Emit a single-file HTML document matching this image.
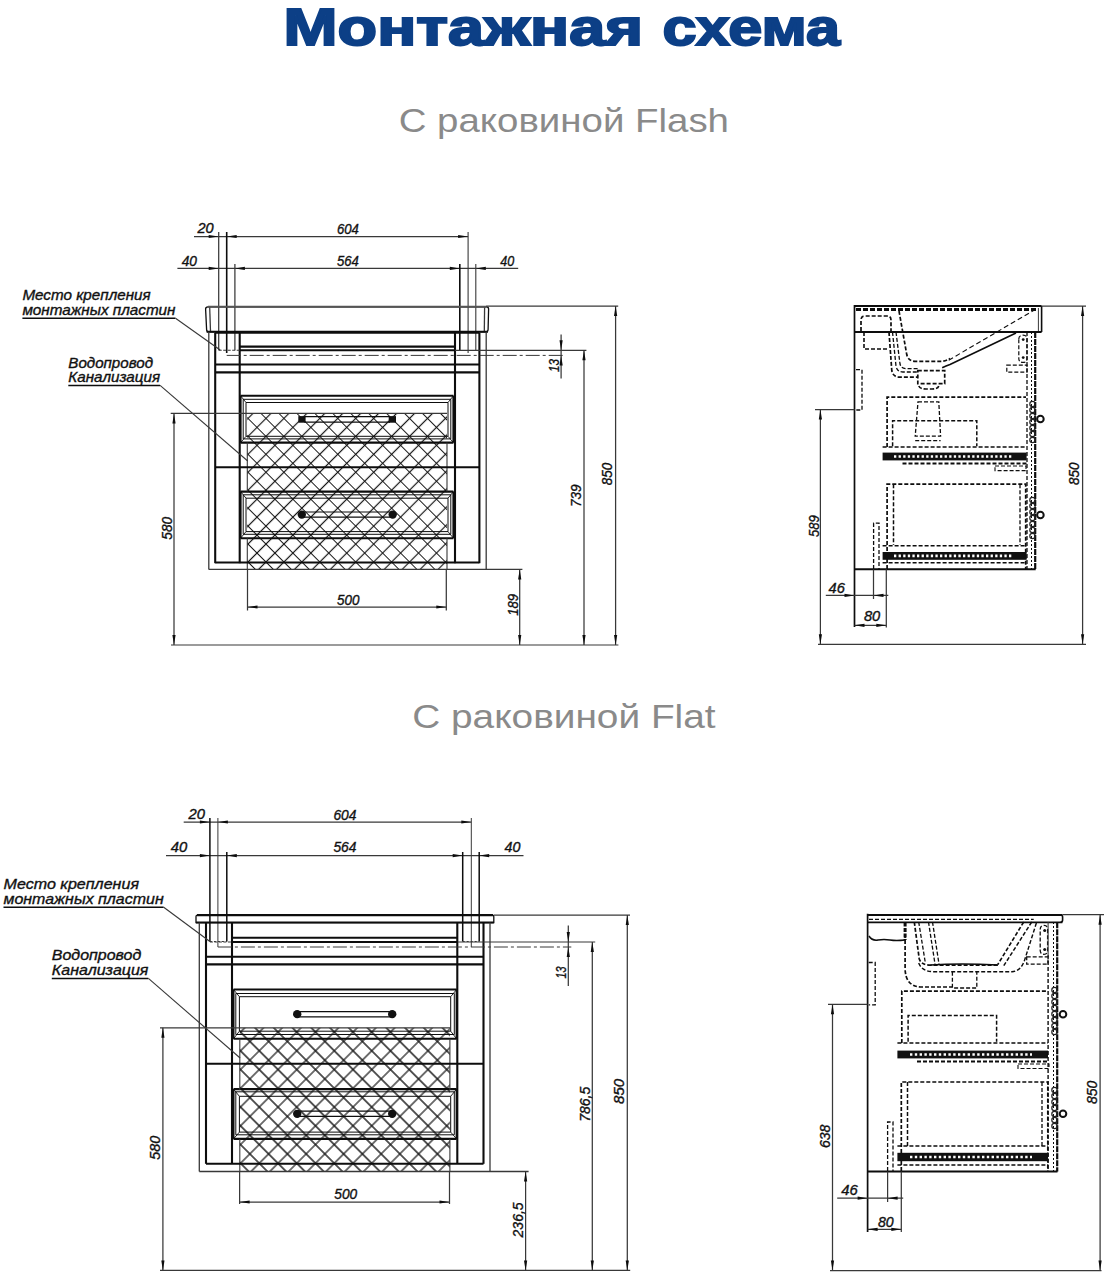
<!DOCTYPE html>
<html><head><meta charset="utf-8"><title>Монтажная схема</title>
<style>
html,body{margin:0;padding:0;background:#fff;width:1104px;height:1276px;overflow:hidden}
svg{display:block;font-family:"Liberation Sans",sans-serif}
</style></head><body>
<svg width="1104" height="1276" viewBox="0 0 1104 1276">
<defs>
<pattern id="hA" patternUnits="userSpaceOnUse" width="12.693" height="12.693" patternTransform="translate(248.0,409.425) rotate(45)"><path d="M0,6.346H12.693M6.346,0V12.693" stroke="#161616" stroke-width="1.2"/></pattern>
<pattern id="hB" patternUnits="userSpaceOnUse" width="13.258" height="13.258" patternTransform="translate(240.5,1041.425) rotate(45)"><path d="M0,6.629H13.258M6.629,0V13.258" stroke="#161616" stroke-width="1.2"/></pattern>
</defs>
<text x="283.6" y="45.2" font-size="52" font-style="normal" text-anchor="start" fill="#0c3f86" textLength="359.5" lengthAdjust="spacingAndGlyphs" font-weight="bold" stroke="#0c3f86" stroke-width="2">Монтажная</text>
<text x="662.6" y="45.2" font-size="52" font-style="normal" text-anchor="start" fill="#0c3f86" textLength="177.4" lengthAdjust="spacingAndGlyphs" font-weight="bold" stroke="#0c3f86" stroke-width="2">схема</text>
<text x="398.7" y="131.6" font-size="34" font-style="normal" text-anchor="start" fill="#8a8a8a" textLength="330.3" lengthAdjust="spacingAndGlyphs" >С раковиной Flash</text>
<text x="412.2" y="728.0" font-size="34" font-style="normal" text-anchor="start" fill="#8a8a8a" textLength="303.4" lengthAdjust="spacingAndGlyphs" >С раковиной Flat</text>
<line x1="194" y1="236.5" x2="468.1" y2="236.5" stroke="#383838" stroke-width="1.25"/>
<polygon points="218.7,236.5 208.7,234.9 208.7,238.1" fill="#0d0d0d"/>
<polygon points="226.7,236.5 236.7,234.9 236.7,238.1" fill="#0d0d0d"/>
<polygon points="468.1,236.5 458.1,234.9 458.1,238.1" fill="#0d0d0d"/>
<text x="197.4" y="233.2" font-size="13.8" font-style="italic" text-anchor="start" fill="#111" stroke="#111" stroke-width="0.35" textLength="16.2" lengthAdjust="spacingAndGlyphs" >20</text>
<text x="336.9" y="233.5" font-size="13.8" font-style="italic" text-anchor="start" fill="#111" stroke="#111" stroke-width="0.35" textLength="21.9" lengthAdjust="spacingAndGlyphs" >604</text>
<line x1="177.4" y1="268.4" x2="518.2" y2="268.4" stroke="#383838" stroke-width="1.25"/>
<polygon points="218.7,268.4 208.7,266.79999999999995 208.7,270.0" fill="#0d0d0d"/>
<polygon points="234.9,268.4 244.9,266.79999999999995 244.9,270.0" fill="#0d0d0d"/>
<polygon points="459.8,268.4 449.8,266.79999999999995 449.8,270.0" fill="#0d0d0d"/>
<polygon points="475.8,268.4 485.8,266.79999999999995 485.8,270.0" fill="#0d0d0d"/>
<text x="181.7" y="265.8" font-size="13.8" font-style="italic" text-anchor="start" fill="#111" stroke="#111" stroke-width="0.35" textLength="15.3" lengthAdjust="spacingAndGlyphs" >40</text>
<text x="336.9" y="265.8" font-size="13.8" font-style="italic" text-anchor="start" fill="#111" stroke="#111" stroke-width="0.35" textLength="21.9" lengthAdjust="spacingAndGlyphs" >564</text>
<text x="500.3" y="265.8" font-size="13.8" font-style="italic" text-anchor="start" fill="#111" stroke="#111" stroke-width="0.35" textLength="14" lengthAdjust="spacingAndGlyphs" >40</text>
<line x1="218.7" y1="232" x2="218.7" y2="350.3" stroke="#383838" stroke-width="1.25"/>
<line x1="226.7" y1="232" x2="226.7" y2="353" stroke="#0d0d0d" stroke-width="1.6"/>
<line x1="234.9" y1="264" x2="234.9" y2="350.3" stroke="#383838" stroke-width="1.25"/>
<line x1="459.8" y1="264" x2="459.8" y2="350.3" stroke="#0d0d0d" stroke-width="1.6"/>
<line x1="468.1" y1="232" x2="468.1" y2="353" stroke="#383838" stroke-width="1.1"/>
<line x1="475.8" y1="264" x2="475.8" y2="350.3" stroke="#383838" stroke-width="1.1"/>
<path d="M208,306.8 H486.6 Q488.6,306.8 488.6,309 L488.1,329.6 Q488,331.8 486,331.8 H208.7 Q206.7,331.8 206.6,329.6 L205.6,309 Q205.6,306.8 208,306.8 Z" stroke="#0d0d0d" stroke-width="1.3" fill="none" />
<line x1="208" y1="306.8" x2="486.6" y2="306.8" stroke="#555" stroke-width="2.0"/>
<line x1="209.7" y1="307.5" x2="210.5" y2="331.5" stroke="#383838" stroke-width="1.3"/>
<line x1="484.6" y1="307.5" x2="484.3" y2="331.5" stroke="#383838" stroke-width="1.3"/>
<line x1="206.6" y1="331.8" x2="488" y2="331.8" stroke="#0d0d0d" stroke-width="2.0"/>
<line x1="208.8" y1="331.8" x2="208.8" y2="569.4" stroke="#383838" stroke-width="1.3"/>
<line x1="215.2" y1="333" x2="215.2" y2="563.2" stroke="#0d0d0d" stroke-width="2.1"/>
<line x1="239.7" y1="333" x2="239.7" y2="563.2" stroke="#0d0d0d" stroke-width="2.1"/>
<line x1="455.0" y1="333" x2="455.0" y2="563.2" stroke="#0d0d0d" stroke-width="2.1"/>
<line x1="479.4" y1="333" x2="479.4" y2="563.2" stroke="#0d0d0d" stroke-width="2.1"/>
<line x1="486.2" y1="331.8" x2="486.2" y2="569.4" stroke="#383838" stroke-width="1.3"/>
<line x1="215.2" y1="332.6" x2="479.4" y2="332.6" stroke="#0d0d0d" stroke-width="2.1"/>
<line x1="239.7" y1="346.6" x2="455" y2="346.6" stroke="#0d0d0d" stroke-width="2.1"/>
<line x1="455" y1="350.3" x2="586.4" y2="350.3" stroke="#383838" stroke-width="1.15"/>
<line x1="239.7" y1="350.3" x2="455" y2="350.3" stroke="#0d0d0d" stroke-width="2.0"/>
<line x1="218.7" y1="350.3" x2="239.7" y2="350.3" stroke="#383838" stroke-width="1.1" stroke-dasharray="3,1.5"/>
<line x1="226.7" y1="355.4" x2="564.4" y2="355.4" stroke="#383838" stroke-width="1.0" stroke-dasharray="14,3,3,3"/>
<line x1="215.2" y1="364.5" x2="479.4" y2="364.5" stroke="#0d0d0d" stroke-width="2.1"/>
<line x1="215.2" y1="372.4" x2="479.4" y2="372.4" stroke="#0d0d0d" stroke-width="2.1"/>
<rect x="247.2" y="413.3" width="199.8" height="156.0" fill="url(#hA)"/>
<line x1="240.6" y1="395.8" x2="453.4" y2="395.8" stroke="#0d0d0d" stroke-width="2.1"/>
<line x1="240.6" y1="395.8" x2="240.6" y2="442.6" stroke="#0d0d0d" stroke-width="2.0"/>
<line x1="453.4" y1="395.8" x2="453.4" y2="442.6" stroke="#0d0d0d" stroke-width="2.0"/>
<path d="M243.2,438.90000000000003 V399.3 H450.79999999999995 V438.90000000000003 Z" stroke="#0d0d0d" stroke-width="1.0" fill="none" />
<path d="M246.0,436.3 V402.5 H448.0 V436.3 Z" stroke="#0d0d0d" stroke-width="1.0" fill="none" />
<path d="M240.6,395.8 L246.0,402.5 M453.4,395.8 L448.0,402.5 M240.6,442.6 L246.0,436.3 M453.4,442.6 L448.0,436.3" stroke="#0d0d0d" stroke-width="0.9" fill="none" />
<line x1="240.6" y1="442.6" x2="453.4" y2="442.6" stroke="#0d0d0d" stroke-width="2.1"/>
<line x1="240.6" y1="491.6" x2="453.4" y2="491.6" stroke="#0d0d0d" stroke-width="2.1"/>
<line x1="240.6" y1="491.6" x2="240.6" y2="538.2" stroke="#0d0d0d" stroke-width="2.0"/>
<line x1="453.4" y1="491.6" x2="453.4" y2="538.2" stroke="#0d0d0d" stroke-width="2.0"/>
<path d="M243.2,534.3000000000001 V494.8 H450.79999999999995 V534.3000000000001 Z" stroke="#0d0d0d" stroke-width="1.0" fill="none" />
<path d="M246.0,531.6 V498.20000000000005 H448.0 V531.6 Z" stroke="#0d0d0d" stroke-width="1.0" fill="none" />
<path d="M240.6,491.6 L246.0,498.20000000000005 M453.4,491.6 L448.0,498.20000000000005 M240.6,538.2 L246.0,531.6 M453.4,538.2 L448.0,531.6" stroke="#0d0d0d" stroke-width="0.9" fill="none" />
<line x1="240.6" y1="538.2" x2="453.4" y2="538.2" stroke="#0d0d0d" stroke-width="2.1"/>
<line x1="247.3" y1="442.4" x2="247.3" y2="491.6" stroke="#383838" stroke-width="1.1"/>
<line x1="447.0" y1="442.4" x2="447.0" y2="491.6" stroke="#383838" stroke-width="1.1"/>
<line x1="247.3" y1="538.2" x2="247.3" y2="569.4" stroke="#383838" stroke-width="1.1"/>
<line x1="447.0" y1="538.2" x2="447.0" y2="569.4" stroke="#383838" stroke-width="1.1"/>
<line x1="215.2" y1="467.3" x2="479.4" y2="467.3" stroke="#0d0d0d" stroke-width="2.1"/>
<line x1="215.2" y1="562.5" x2="479.4" y2="562.5" stroke="#0d0d0d" stroke-width="2.1"/>
<line x1="208.8" y1="569.4" x2="522.4" y2="569.4" stroke="#383838" stroke-width="1.3"/>
<path d="M304.3,416.59999999999997 H390.0 M304.3,422.2 H390.0" stroke="#0d0d0d" stroke-width="1.2" fill="none" />
<rect x="298.3" y="416.09999999999997" width="7.3" height="6.6" fill="#111"/>
<rect x="388.7" y="416.09999999999997" width="7.3" height="6.6" fill="#111"/>
<path d="M303.0,512.0 H391.5 Q393.5,514.6 391.5,517.2 H303.0" stroke="#0d0d0d" stroke-width="1.2" fill="none" />
<ellipse cx="301.8" cy="514.6" rx="4.2" ry="4.1" fill="#111"/>
<ellipse cx="392.7" cy="514.6" rx="4.2" ry="4.1" fill="#111"/>
<text x="22.4" y="300.1" font-size="14" font-style="italic" text-anchor="start" fill="#111" stroke="#111" stroke-width="0.35" textLength="128.3" lengthAdjust="spacingAndGlyphs" >Место крепления</text>
<text x="22.4" y="314.7" font-size="14" font-style="italic" text-anchor="start" fill="#111" stroke="#111" stroke-width="0.35" textLength="153.1" lengthAdjust="spacingAndGlyphs" >монтажных пластин</text>
<line x1="22.4" y1="318.3" x2="175.5" y2="318.3" stroke="#0d0d0d" stroke-width="1.5"/>
<line x1="175.5" y1="318.3" x2="220.2" y2="350.0" stroke="#383838" stroke-width="1.1"/>
<text x="68.3" y="367.7" font-size="14" font-style="italic" text-anchor="start" fill="#111" stroke="#111" stroke-width="0.35" textLength="84.7" lengthAdjust="spacingAndGlyphs" >Водопровод</text>
<text x="68.3" y="381.9" font-size="14" font-style="italic" text-anchor="start" fill="#111" stroke="#111" stroke-width="0.35" textLength="91.8" lengthAdjust="spacingAndGlyphs" >Канализация</text>
<line x1="68.3" y1="385.4" x2="160.1" y2="385.4" stroke="#0d0d0d" stroke-width="1.5"/>
<line x1="160.1" y1="385.4" x2="247.7" y2="461.0" stroke="#383838" stroke-width="1.1"/>
<line x1="170.7" y1="413.4" x2="447" y2="413.4" stroke="#383838" stroke-width="1.25"/>
<line x1="174" y1="413.5" x2="174" y2="645" stroke="#383838" stroke-width="1.25"/>
<polygon points="174,413.5 172.4,423.5 175.6,423.5" fill="#0d0d0d"/>
<polygon points="174,645 172.4,635 175.6,635" fill="#0d0d0d"/>
<text x="171.768" y="528.2" font-size="13.8" font-style="italic" text-anchor="middle" fill="#111" stroke="#111" stroke-width="0.35" transform="rotate(-90 171.768 528.2)" textLength="23" lengthAdjust="spacingAndGlyphs" >580</text>
<line x1="171" y1="645" x2="618.4" y2="645" stroke="#383838" stroke-width="1.2"/>
<line x1="247.5" y1="569.4" x2="247.5" y2="610.5" stroke="#383838" stroke-width="1.25"/>
<line x1="446.3" y1="569.4" x2="446.3" y2="610.5" stroke="#383838" stroke-width="1.25"/>
<line x1="247.5" y1="607" x2="446.3" y2="607" stroke="#383838" stroke-width="1.25"/>
<polygon points="247.5,607 257.5,605.4 257.5,608.6" fill="#0d0d0d"/>
<polygon points="446.3,607 436.3,605.4 436.3,608.6" fill="#0d0d0d"/>
<text x="337" y="604.7" font-size="13.8" font-style="italic" text-anchor="start" fill="#111" stroke="#111" stroke-width="0.35" textLength="22.4" lengthAdjust="spacingAndGlyphs" >500</text>
<line x1="519.7" y1="569.4" x2="519.7" y2="645" stroke="#383838" stroke-width="1.25"/>
<polygon points="519.7,569.4 518.1,579.4 521.3000000000001,579.4" fill="#0d0d0d"/>
<polygon points="519.7,645 518.1,635 521.3000000000001,635" fill="#0d0d0d"/>
<text x="518.168" y="604.9" font-size="13.8" font-style="italic" text-anchor="middle" fill="#111" stroke="#111" stroke-width="0.35" transform="rotate(-90 518.168 604.9)" textLength="21.8" lengthAdjust="spacingAndGlyphs" >189</text>
<line x1="584" y1="350.3" x2="584" y2="645" stroke="#383838" stroke-width="1.25"/>
<polygon points="584,350.3 582.4,360.3 585.6,360.3" fill="#0d0d0d"/>
<polygon points="584,645 582.4,635 585.6,635" fill="#0d0d0d"/>
<text x="580.8679999999999" y="495.7" font-size="13.8" font-style="italic" text-anchor="middle" fill="#111" stroke="#111" stroke-width="0.35" transform="rotate(-90 580.8679999999999 495.7)" textLength="22.6" lengthAdjust="spacingAndGlyphs" >739</text>
<line x1="486.2" y1="306.0" x2="618.2" y2="306.0" stroke="#383838" stroke-width="1.25"/>
<line x1="615.6" y1="306" x2="615.6" y2="645" stroke="#383838" stroke-width="1.25"/>
<polygon points="615.6,306 614.0,316 617.2,316" fill="#0d0d0d"/>
<polygon points="615.6,645 614.0,635 617.2,635" fill="#0d0d0d"/>
<text x="612.468" y="474" font-size="13.8" font-style="italic" text-anchor="middle" fill="#111" stroke="#111" stroke-width="0.35" transform="rotate(-90 612.468 474)" textLength="22.6" lengthAdjust="spacingAndGlyphs" >850</text>
<line x1="561.1" y1="334.6" x2="561.1" y2="378.6" stroke="#383838" stroke-width="1.25"/>
<polygon points="561.1,350.3 559.5,340.3 562.7,340.3" fill="#0d0d0d"/>
<polygon points="561.1,355.4 559.5,365.4 562.7,365.4" fill="#0d0d0d"/>
<text x="559.3679999999999" y="365.5" font-size="13.8" font-style="italic" text-anchor="middle" fill="#111" stroke="#111" stroke-width="0.35" transform="rotate(-90 559.3679999999999 365.5)" textLength="13" lengthAdjust="spacingAndGlyphs" >13</text>
<line x1="854.5" y1="306" x2="1041.6" y2="306" stroke="#0d0d0d" stroke-width="1.9"/>
<line x1="1041.6" y1="306" x2="1041.6" y2="332" stroke="#0d0d0d" stroke-width="1.6"/>
<line x1="1038.4" y1="308" x2="1038.4" y2="331" stroke="#383838" stroke-width="1.0"/>
<line x1="854.5" y1="332" x2="1041.6" y2="332" stroke="#0d0d0d" stroke-width="1.8"/>
<line x1="1041.6" y1="306" x2="1086" y2="306" stroke="#383838" stroke-width="1.25"/>
<line x1="854.5" y1="305" x2="854.5" y2="627" stroke="#0d0d0d" stroke-width="1.7"/>
<line x1="1035.2" y1="332" x2="1035.2" y2="569.3" stroke="#0d0d0d" stroke-width="2.2" stroke-dasharray="6,1"/>
<line x1="854.5" y1="569.3" x2="1035.7" y2="569.3" stroke="#0d0d0d" stroke-width="1.9"/>
<line x1="856" y1="309.4" x2="1036.7" y2="309.4" stroke="#0d0d0d" stroke-width="3.0" stroke-dasharray="5,2"/>
<path d="M899,311 L906.8,354.8 Q908.5,361.3 915,361.3 L942,361.3 Q946,361 950,358.5" stroke="#0d0d0d" stroke-width="1.7" fill="none" stroke-dasharray="4,2" />
<path d="M948.7,360.2 L1037.8,308" stroke="#0d0d0d" stroke-width="1.1" fill="none" stroke-dasharray="5,3" />
<path d="M942.2,367.8 Q946,366 950,364.5 L1016,333" stroke="#0d0d0d" stroke-width="1.6" fill="none" />
<path d="M889,332 L891.8,370.7 Q893,377.2 900,377.2 L918,377.2" stroke="#0d0d0d" stroke-width="1.7" fill="none" stroke-dasharray="4,2" />
<path d="M892.5,332 L896,366 Q897,372 903,372 H918" stroke="#0d0d0d" stroke-width="1.3" fill="none" stroke-dasharray="4,2" />
<path d="M896,332 L900,364 Q901,368.6 906,368.6 H918" stroke="#0d0d0d" stroke-width="1.3" fill="none" stroke-dasharray="4,2" />
<path d="M917.8,370.7 H944.7 V383.7 H917.8 Z" stroke="#0d0d0d" stroke-width="1.7" fill="none" stroke-dasharray="4,2" />
<path d="M918.8,386 Q920,389 926,389 H932 Q938,389 938.7,386" stroke="#0d0d0d" stroke-width="1.7" fill="none" stroke-dasharray="4,2" />
<path d="M861,331 V320 Q861,316 865,316 H887 Q891,316 891,320 V331" stroke="#0d0d0d" stroke-width="1.7" fill="none" stroke-dasharray="4,2" />
<path d="M864,332 V349 H889" stroke="#0d0d0d" stroke-width="1.6" fill="none" stroke-dasharray="4,2" />
<path d="M856,369.7 H862 V410 H856" stroke="#0d0d0d" stroke-width="1.3" fill="none" stroke-dasharray="4,2" />
<line x1="815" y1="409.6" x2="854.5" y2="409.6" stroke="#383838" stroke-width="1.25"/>
<path d="M1018.8,339 Q1018.8,335.2 1023,335.2 Q1027,335.2 1027,339 V358.5 Q1027,362.4 1023,362.4 Q1018.8,362.4 1018.8,358.5 Z" stroke="#0d0d0d" stroke-width="1.2" fill="none" stroke-dasharray="4,2" />
<circle cx="1023.2" cy="339.6" r="1.4" fill="#111"/><circle cx="1023.2" cy="357.6" r="1.4" fill="#111"/>
<path d="M1006.8,365.1 H1027 V372.2 H1006.8 Z" stroke="#0d0d0d" stroke-width="1.2" fill="none" stroke-dasharray="4,2" />
<path d="M1027,332 V569" stroke="#0d0d0d" stroke-width="1.3" fill="none" stroke-dasharray="4,2" />
<path d="M1031.5,332 V569" stroke="#0d0d0d" stroke-width="1.0" fill="none" stroke-dasharray="2,2" />
<path d="M887.1,447 V397.2 H1026" stroke="#0d0d0d" stroke-width="1.7" fill="none" stroke-dasharray="4,2" />
<path d="M892.6,446.2 V420.8 H976.8 V446.2" stroke="#0d0d0d" stroke-width="1.5" fill="none" stroke-dasharray="4,2" />
<path d="M918,401.8 H938.8 L940.6,436.2 H915.2 Z" stroke="#0d0d0d" stroke-width="1.3" fill="none" stroke-dasharray="4,2" />
<path d="M915.2,440.7 H940.6" stroke="#0d0d0d" stroke-width="1.2" fill="none" stroke-dasharray="4,2" />
<path d="M882.6,447 H1026.6" stroke="#0d0d0d" stroke-width="1.6" fill="none" stroke-dasharray="4,2" />
<rect x="882.6" y="452.6" width="144" height="7.8" fill="#111"/>
<line x1="894" y1="456.5" x2="1012" y2="456.5" stroke="#fff" stroke-width="2.6" stroke-dasharray="2.3,2.3"/>
<path d="M902.5,463.4 H1026.6" stroke="#0d0d0d" stroke-width="2.0" fill="none" stroke-dasharray="4,2" />
<path d="M995,466 H1026 V470.6 H995 Z" stroke="#0d0d0d" stroke-width="1.1" fill="none" stroke-dasharray="4,2" />
<path d="M887.1,569 V484.2 H1025.7 V569" stroke="#0d0d0d" stroke-width="1.7" fill="none" stroke-dasharray="4,2" />
<path d="M893.5,484.2 V545" stroke="#0d0d0d" stroke-width="1.5" fill="none" stroke-dasharray="4,2" />
<path d="M1020,484.2 V545" stroke="#0d0d0d" stroke-width="1.3" fill="none" stroke-dasharray="4,2" />
<path d="M882.6,545.8 H1026.6" stroke="#0d0d0d" stroke-width="1.6" fill="none" stroke-dasharray="4,2" />
<rect x="882.6" y="552.0" width="144" height="7.8" fill="#111"/>
<line x1="894" y1="555.9" x2="1012" y2="555.9" stroke="#fff" stroke-width="2.6" stroke-dasharray="2.3,2.3"/>
<path d="M882.6,562.8 H1026.6" stroke="#0d0d0d" stroke-width="1.5" fill="none" stroke-dasharray="4,2" />
<path d="M873.6,569 V523.2 H879 V569" stroke="#0d0d0d" stroke-width="1.3" fill="none" stroke-dasharray="4,2" />
<circle cx="1032.5" cy="404" r="2.7" fill="none" stroke="#222" stroke-width="1.2"/>
<circle cx="1032.5" cy="410" r="2.7" fill="none" stroke="#222" stroke-width="1.2"/>
<circle cx="1032.5" cy="416" r="2.7" fill="none" stroke="#222" stroke-width="1.2"/>
<circle cx="1032.5" cy="422" r="2.7" fill="none" stroke="#222" stroke-width="1.2"/>
<circle cx="1032.5" cy="428" r="2.7" fill="none" stroke="#222" stroke-width="1.2"/>
<circle cx="1032.5" cy="434" r="2.7" fill="none" stroke="#222" stroke-width="1.2"/>
<circle cx="1032.5" cy="440" r="2.7" fill="none" stroke="#222" stroke-width="1.2"/>
<circle cx="1032.5" cy="500" r="2.7" fill="none" stroke="#222" stroke-width="1.2"/>
<circle cx="1032.5" cy="506" r="2.7" fill="none" stroke="#222" stroke-width="1.2"/>
<circle cx="1032.5" cy="512" r="2.7" fill="none" stroke="#222" stroke-width="1.2"/>
<circle cx="1032.5" cy="518" r="2.7" fill="none" stroke="#222" stroke-width="1.2"/>
<circle cx="1032.5" cy="524" r="2.7" fill="none" stroke="#222" stroke-width="1.2"/>
<circle cx="1032.5" cy="530" r="2.7" fill="none" stroke="#222" stroke-width="1.2"/>
<circle cx="1032.5" cy="536" r="2.7" fill="none" stroke="#222" stroke-width="1.2"/>
<circle cx="1040.4" cy="419" r="3.3" fill="#fff" stroke="#111" stroke-width="2.0"/>
<circle cx="1040.4" cy="515" r="3.3" fill="#fff" stroke="#111" stroke-width="2.0"/>
<line x1="820.4" y1="409.6" x2="820.4" y2="644.3" stroke="#383838" stroke-width="1.25"/>
<polygon points="820.4,409.6 818.8,419.6 822.0,419.6" fill="#0d0d0d"/>
<polygon points="820.4,644.3 818.8,634.3 822.0,634.3" fill="#0d0d0d"/>
<text x="818.568" y="526.1" font-size="13.8" font-style="italic" text-anchor="middle" fill="#111" stroke="#111" stroke-width="0.35" transform="rotate(-90 818.568 526.1)" textLength="21.8" lengthAdjust="spacingAndGlyphs" >589</text>
<line x1="818" y1="644.3" x2="1086" y2="644.3" stroke="#383838" stroke-width="1.2"/>
<line x1="1082.6" y1="306" x2="1082.6" y2="644.3" stroke="#383838" stroke-width="1.25"/>
<polygon points="1082.6,306 1081.0,316 1084.1999999999998,316" fill="#0d0d0d"/>
<polygon points="1082.6,644.3 1081.0,634.3 1084.1999999999998,634.3" fill="#0d0d0d"/>
<text x="1079.468" y="473.7" font-size="13.8" font-style="italic" text-anchor="middle" fill="#111" stroke="#111" stroke-width="0.35" transform="rotate(-90 1079.468 473.7)" textLength="22.6" lengthAdjust="spacingAndGlyphs" >850</text>
<line x1="825.8" y1="595.4" x2="888.3" y2="595.4" stroke="#383838" stroke-width="1.25"/>
<polygon points="854.5,595.4 844.5,593.8 844.5,597.0" fill="#0d0d0d"/>
<polygon points="873.5,595.4 883.5,593.8 883.5,597.0" fill="#0d0d0d"/>
<line x1="873.5" y1="569.3" x2="873.5" y2="599" stroke="#383838" stroke-width="1.25"/>
<text x="828.5" y="592.7" font-size="13.8" font-style="italic" text-anchor="start" fill="#111" stroke="#111" stroke-width="0.35" textLength="16.3" lengthAdjust="spacingAndGlyphs" >46</text>
<line x1="854.5" y1="625.3" x2="886.3" y2="625.3" stroke="#383838" stroke-width="1.25"/>
<polygon points="854.5,625.3 864.5,623.6999999999999 864.5,626.9" fill="#0d0d0d"/>
<polygon points="886.3,625.3 876.3,623.6999999999999 876.3,626.9" fill="#0d0d0d"/>
<line x1="886.3" y1="569.3" x2="886.3" y2="627.5" stroke="#383838" stroke-width="1.25"/>
<text x="863.9" y="621.2" font-size="13.8" font-style="italic" text-anchor="start" fill="#111" stroke="#111" stroke-width="0.35" textLength="16.3" lengthAdjust="spacingAndGlyphs" >80</text>
<line x1="183.7" y1="822" x2="471.3" y2="822" stroke="#383838" stroke-width="1.25"/>
<polygon points="209.9,822 199.9,820.4 199.9,823.6" fill="#0d0d0d"/>
<polygon points="217.9,822 227.9,820.4 227.9,823.6" fill="#0d0d0d"/>
<polygon points="471.3,822 461.3,820.4 461.3,823.6" fill="#0d0d0d"/>
<text x="188.4" y="819.4" font-size="13.8" font-style="italic" text-anchor="start" fill="#111" stroke="#111" stroke-width="0.35" textLength="16.5" lengthAdjust="spacingAndGlyphs" >20</text>
<text x="333.4" y="819.5" font-size="13.8" font-style="italic" text-anchor="start" fill="#111" stroke="#111" stroke-width="0.35" textLength="23" lengthAdjust="spacingAndGlyphs" >604</text>
<line x1="166" y1="855.6" x2="523.5" y2="855.6" stroke="#383838" stroke-width="1.25"/>
<polygon points="209.9,855.6 199.9,854.0 199.9,857.2" fill="#0d0d0d"/>
<polygon points="226.8,855.6 236.8,854.0 236.8,857.2" fill="#0d0d0d"/>
<polygon points="462.7,855.6 452.7,854.0 452.7,857.2" fill="#0d0d0d"/>
<polygon points="479.2,855.6 489.2,854.0 489.2,857.2" fill="#0d0d0d"/>
<text x="170.7" y="852.4" font-size="13.8" font-style="italic" text-anchor="start" fill="#111" stroke="#111" stroke-width="0.35" textLength="16.5" lengthAdjust="spacingAndGlyphs" >40</text>
<text x="333.4" y="852.2" font-size="13.8" font-style="italic" text-anchor="start" fill="#111" stroke="#111" stroke-width="0.35" textLength="23" lengthAdjust="spacingAndGlyphs" >564</text>
<text x="504.6" y="852.2" font-size="13.8" font-style="italic" text-anchor="start" fill="#111" stroke="#111" stroke-width="0.35" textLength="15.9" lengthAdjust="spacingAndGlyphs" >40</text>
<line x1="209.9" y1="818" x2="209.9" y2="941.5" stroke="#0d0d0d" stroke-width="1.5"/>
<line x1="217.9" y1="818" x2="217.9" y2="947" stroke="#383838" stroke-width="1.0"/>
<line x1="226.8" y1="852" x2="226.8" y2="941.5" stroke="#0d0d0d" stroke-width="1.5"/>
<line x1="462.7" y1="852" x2="462.7" y2="941.5" stroke="#0d0d0d" stroke-width="1.5"/>
<line x1="471.3" y1="818" x2="471.3" y2="947" stroke="#383838" stroke-width="1.0"/>
<line x1="479.2" y1="852" x2="479.2" y2="941.5" stroke="#0d0d0d" stroke-width="1.5"/>
<line x1="209.9" y1="941.5" x2="226.8" y2="941.5" stroke="#383838" stroke-width="1.0" stroke-dasharray="2,2"/>
<line x1="462.7" y1="941.5" x2="479.2" y2="941.5" stroke="#383838" stroke-width="1.0" stroke-dasharray="2,2"/>
<path d="M197.5,915.1 H492.5 Q493.8,915.1 493.8,916.5 V922.6 H196 V916.5 Q196,915.1 197.5,915.1 Z" stroke="#0d0d0d" stroke-width="1.3" fill="none" />
<line x1="197" y1="915.1" x2="493" y2="915.1" stroke="#0d0d0d" stroke-width="2.3"/>
<line x1="196" y1="922.6" x2="493.8" y2="922.6" stroke="#0d0d0d" stroke-width="2.0"/>
<line x1="493.8" y1="915.1" x2="630" y2="915.1" stroke="#383838" stroke-width="1.25"/>
<line x1="199.3" y1="922.6" x2="199.3" y2="1171.5" stroke="#383838" stroke-width="1.3"/>
<line x1="206" y1="922.6" x2="206" y2="1163.8" stroke="#0d0d0d" stroke-width="2.1"/>
<line x1="232" y1="922.6" x2="232" y2="1163.8" stroke="#0d0d0d" stroke-width="2.1"/>
<line x1="457.3" y1="922.6" x2="457.3" y2="1163.8" stroke="#0d0d0d" stroke-width="2.1"/>
<line x1="483.5" y1="922.6" x2="483.5" y2="1163.8" stroke="#0d0d0d" stroke-width="2.1"/>
<line x1="490" y1="922.6" x2="490" y2="1171.5" stroke="#383838" stroke-width="1.3"/>
<line x1="232" y1="937.7" x2="457.3" y2="937.7" stroke="#0d0d0d" stroke-width="2.1"/>
<line x1="457.3" y1="942" x2="595.2" y2="942" stroke="#383838" stroke-width="1.15"/>
<line x1="232" y1="942" x2="457.3" y2="942" stroke="#0d0d0d" stroke-width="2.0"/>
<line x1="209.9" y1="942" x2="232" y2="942" stroke="#383838" stroke-width="1.1" stroke-dasharray="3,1.5"/>
<line x1="217.9" y1="947" x2="571.3" y2="947" stroke="#383838" stroke-width="1.0" stroke-dasharray="14,3,3,3"/>
<line x1="206" y1="956.8" x2="483.5" y2="956.8" stroke="#0d0d0d" stroke-width="2.1"/>
<line x1="206" y1="964.4" x2="483.5" y2="964.4" stroke="#0d0d0d" stroke-width="2.1"/>
<rect x="239.8" y="1027.8" width="210.1" height="143.7" fill="url(#hB)"/>
<line x1="233.5" y1="989.5" x2="456.6" y2="989.5" stroke="#0d0d0d" stroke-width="2.1"/>
<line x1="233.5" y1="989.5" x2="233.5" y2="1038.8" stroke="#0d0d0d" stroke-width="2.0"/>
<line x1="456.6" y1="989.5" x2="456.6" y2="1038.8" stroke="#0d0d0d" stroke-width="2.0"/>
<path d="M235.8,1034.5 V993.5 H454.3 V1034.5 Z" stroke="#0d0d0d" stroke-width="1.0" fill="none" />
<path d="M239.4,1031.2 V996.7 H450.70000000000005 V1031.2 Z" stroke="#0d0d0d" stroke-width="1.0" fill="none" />
<path d="M233.5,989.5 L239.4,996.7 M456.6,989.5 L450.70000000000005,996.7 M233.5,1038.8 L239.4,1031.2 M456.6,1038.8 L450.70000000000005,1031.2" stroke="#0d0d0d" stroke-width="0.9" fill="none" />
<line x1="233.5" y1="1038.8" x2="456.6" y2="1038.8" stroke="#0d0d0d" stroke-width="2.1"/>
<line x1="233.5" y1="1089.1" x2="456.6" y2="1089.1" stroke="#0d0d0d" stroke-width="2.1"/>
<line x1="233.5" y1="1089.1" x2="233.5" y2="1138.9" stroke="#0d0d0d" stroke-width="2.0"/>
<line x1="456.6" y1="1089.1" x2="456.6" y2="1138.9" stroke="#0d0d0d" stroke-width="2.0"/>
<path d="M235.8,1134.8000000000002 V1091.8 H454.3 V1134.8000000000002 Z" stroke="#0d0d0d" stroke-width="1.0" fill="none" />
<path d="M239.4,1132.1000000000001 V1096.3 H450.70000000000005 V1132.1000000000001 Z" stroke="#0d0d0d" stroke-width="1.0" fill="none" />
<path d="M233.5,1089.1 L239.4,1096.3 M456.6,1089.1 L450.70000000000005,1096.3 M233.5,1138.9 L239.4,1132.1000000000001 M456.6,1138.9 L450.70000000000005,1132.1000000000001" stroke="#0d0d0d" stroke-width="0.9" fill="none" />
<line x1="233.5" y1="1138.9" x2="456.6" y2="1138.9" stroke="#0d0d0d" stroke-width="2.1"/>
<line x1="239.8" y1="1038.7" x2="239.8" y2="1090" stroke="#383838" stroke-width="1.1"/>
<line x1="449.9" y1="1038.7" x2="449.9" y2="1090" stroke="#383838" stroke-width="1.1"/>
<line x1="239.8" y1="1138.9" x2="239.8" y2="1171.5" stroke="#383838" stroke-width="1.1"/>
<line x1="449.9" y1="1138.9" x2="449.9" y2="1171.5" stroke="#383838" stroke-width="1.1"/>
<line x1="206" y1="1063.8" x2="483.5" y2="1063.8" stroke="#0d0d0d" stroke-width="2.1"/>
<line x1="206" y1="1163.8" x2="483.5" y2="1163.8" stroke="#0d0d0d" stroke-width="2.1"/>
<line x1="199.3" y1="1171.5" x2="528.6" y2="1171.5" stroke="#383838" stroke-width="1.3"/>
<path d="M298.4,1011.6 H391.0 Q393.0,1014.2 391.0,1016.8000000000001 H298.4" stroke="#0d0d0d" stroke-width="1.2" fill="none" />
<ellipse cx="297.2" cy="1014.2" rx="4.2" ry="4.1" fill="#111"/>
<ellipse cx="392.2" cy="1014.2" rx="4.2" ry="4.1" fill="#111"/>
<path d="M298.4,1111.2 H391.0 Q393.0,1113.8 391.0,1116.3999999999999 H298.4" stroke="#0d0d0d" stroke-width="1.2" fill="none" />
<ellipse cx="297.2" cy="1113.8" rx="4.2" ry="4.1" fill="#111"/>
<ellipse cx="392.2" cy="1113.8" rx="4.2" ry="4.1" fill="#111"/>
<text x="3.5" y="889" font-size="14.8" font-style="italic" text-anchor="start" fill="#111" stroke="#111" stroke-width="0.35" textLength="135.5" lengthAdjust="spacingAndGlyphs" >Место крепления</text>
<text x="3.5" y="904.2" font-size="14.8" font-style="italic" text-anchor="start" fill="#111" stroke="#111" stroke-width="0.35" textLength="160.2" lengthAdjust="spacingAndGlyphs" >монтажных пластин</text>
<line x1="3.5" y1="907.3" x2="163.7" y2="907.3" stroke="#0d0d0d" stroke-width="1.5"/>
<line x1="163.7" y1="907.3" x2="209.9" y2="941.5" stroke="#383838" stroke-width="1.1"/>
<text x="51.8" y="960" font-size="14.8" font-style="italic" text-anchor="start" fill="#111" stroke="#111" stroke-width="0.35" textLength="89.5" lengthAdjust="spacingAndGlyphs" >Водопровод</text>
<text x="51.8" y="974.9" font-size="14.8" font-style="italic" text-anchor="start" fill="#111" stroke="#111" stroke-width="0.35" textLength="96.6" lengthAdjust="spacingAndGlyphs" >Канализация</text>
<line x1="51.8" y1="978.4" x2="148.4" y2="978.4" stroke="#0d0d0d" stroke-width="1.5"/>
<line x1="148.4" y1="978.4" x2="240.1" y2="1058" stroke="#383838" stroke-width="1.1"/>
<line x1="160" y1="1027.8" x2="450.7" y2="1027.8" stroke="#383838" stroke-width="1.25"/>
<line x1="162.9" y1="1027.8" x2="162.9" y2="1270.4" stroke="#383838" stroke-width="1.25"/>
<polygon points="162.9,1027.8 161.3,1037.8 164.5,1037.8" fill="#0d0d0d"/>
<polygon points="162.9,1270.4 161.3,1260.4 164.5,1260.4" fill="#0d0d0d"/>
<text x="160.16799999999998" y="1147.8" font-size="13.8" font-style="italic" text-anchor="middle" fill="#111" stroke="#111" stroke-width="0.35" transform="rotate(-90 160.16799999999998 1147.8)" textLength="24" lengthAdjust="spacingAndGlyphs" >580</text>
<line x1="160" y1="1270.4" x2="630.2" y2="1270.4" stroke="#383838" stroke-width="1.2"/>
<line x1="239.6" y1="1171.5" x2="239.6" y2="1204" stroke="#383838" stroke-width="1.25"/>
<line x1="449.5" y1="1171.5" x2="449.5" y2="1204" stroke="#383838" stroke-width="1.25"/>
<line x1="239.6" y1="1202" x2="449.5" y2="1202" stroke="#383838" stroke-width="1.25"/>
<polygon points="239.6,1202 249.6,1200.4 249.6,1203.6" fill="#0d0d0d"/>
<polygon points="449.5,1202 439.5,1200.4 439.5,1203.6" fill="#0d0d0d"/>
<text x="334.3" y="1198.6" font-size="13.8" font-style="italic" text-anchor="start" fill="#111" stroke="#111" stroke-width="0.35" textLength="22.9" lengthAdjust="spacingAndGlyphs" >500</text>
<line x1="525.6" y1="1171.5" x2="525.6" y2="1270.4" stroke="#383838" stroke-width="1.25"/>
<polygon points="525.6,1171.5 524.0,1181.5 527.2,1181.5" fill="#0d0d0d"/>
<polygon points="525.6,1270.4 524.0,1260.4 527.2,1260.4" fill="#0d0d0d"/>
<text x="523.168" y="1219.9" font-size="13.8" font-style="italic" text-anchor="middle" fill="#111" stroke="#111" stroke-width="0.35" transform="rotate(-90 523.168 1219.9)" textLength="35" lengthAdjust="spacingAndGlyphs" >236,5</text>
<line x1="592.3" y1="942" x2="592.3" y2="1270.4" stroke="#383838" stroke-width="1.25"/>
<polygon points="592.3,942 590.6999999999999,952 593.9,952" fill="#0d0d0d"/>
<polygon points="592.3,1270.4 590.6999999999999,1260.4 593.9,1260.4" fill="#0d0d0d"/>
<text x="589.968" y="1104.2" font-size="13.8" font-style="italic" text-anchor="middle" fill="#111" stroke="#111" stroke-width="0.35" transform="rotate(-90 589.968 1104.2)" textLength="35" lengthAdjust="spacingAndGlyphs" >786,5</text>
<line x1="627.3" y1="915.1" x2="627.3" y2="1270.4" stroke="#383838" stroke-width="1.25"/>
<polygon points="627.3,915.1 625.6999999999999,925.1 628.9,925.1" fill="#0d0d0d"/>
<polygon points="627.3,1270.4 625.6999999999999,1260.4 628.9,1260.4" fill="#0d0d0d"/>
<text x="624.2679999999999" y="1091.4" font-size="13.8" font-style="italic" text-anchor="middle" fill="#111" stroke="#111" stroke-width="0.35" transform="rotate(-90 624.2679999999999 1091.4)" textLength="25" lengthAdjust="spacingAndGlyphs" >850</text>
<line x1="568.3" y1="925.5" x2="568.3" y2="986" stroke="#383838" stroke-width="1.25"/>
<polygon points="568.3,942 566.6999999999999,932 569.9,932" fill="#0d0d0d"/>
<polygon points="568.3,947 566.6999999999999,957 569.9,957" fill="#0d0d0d"/>
<text x="565.8679999999999" y="972.4" font-size="13.8" font-style="italic" text-anchor="middle" fill="#111" stroke="#111" stroke-width="0.35" transform="rotate(-90 565.8679999999999 972.4)" textLength="12" lengthAdjust="spacingAndGlyphs" >13</text>
<line x1="867.6" y1="915.0" x2="1062.4" y2="915.0" stroke="#0d0d0d" stroke-width="1.8"/>
<path d="M1060.5,915 Q1062.6,915 1062.6,917 V920 Q1062.6,922.2 1060.5,922.2" stroke="#0d0d0d" stroke-width="1.6" fill="none" />
<line x1="867.6" y1="922.3" x2="1062.4" y2="922.3" stroke="#0d0d0d" stroke-width="1.8"/>
<line x1="1062.4" y1="914.7" x2="1104" y2="914.7" stroke="#383838" stroke-width="1.25"/>
<line x1="867.6" y1="913.7" x2="867.6" y2="1232" stroke="#0d0d0d" stroke-width="1.7"/>
<line x1="1057.2" y1="922.3" x2="1057.2" y2="1171.5" stroke="#0d0d0d" stroke-width="2.2" stroke-dasharray="6,1"/>
<line x1="867.6" y1="1171.5" x2="1057.5" y2="1171.5" stroke="#0d0d0d" stroke-width="1.9"/>
<path d="M869,919.4 H1033.7" stroke="#0d0d0d" stroke-width="1.3" fill="none" stroke-dasharray="4,2" />
<path d="M905.1,922 V968 Q905.1,987 922,987 H952" stroke="#0d0d0d" stroke-width="1.7" fill="none" stroke-dasharray="4,2" />
<line x1="905.1" y1="922.5" x2="905.1" y2="940" stroke="#0d0d0d" stroke-width="3.0" stroke-dasharray="4,1.5"/>
<path d="M869,936 Q872,941 878,940 T890,940 T905,940" stroke="#0d0d0d" stroke-width="1.5" fill="none" />
<path d="M914.3,922 L919.2,958.7 Q921,965.2 930.7,965.2 H998" stroke="#0d0d0d" stroke-width="1.7" fill="none" stroke-dasharray="4,2" />
<path d="M918.7,922 L925.2,962" stroke="#0d0d0d" stroke-width="1.3" fill="none" stroke-dasharray="4,2" />
<path d="M928.5,922 L935,964" stroke="#0d0d0d" stroke-width="1.3" fill="none" stroke-dasharray="4,2" />
<path d="M932.5,922 L939,964" stroke="#0d0d0d" stroke-width="1.3" fill="none" stroke-dasharray="4,2" />
<path d="M930.7,965 Q960,963 998,965" stroke="#0d0d0d" stroke-width="1.6" fill="none" />
<path d="M1023.7,922 L997.8,964.5" stroke="#0d0d0d" stroke-width="1.6" fill="none" stroke-dasharray="4,2" />
<path d="M1031.7,922 L1003.8,965.7" stroke="#0d0d0d" stroke-width="1.5" fill="none" stroke-dasharray="4,2" />
<path d="M918.7,963 Q922,971.7 934,971.7 H1012 Q1021,971.2 1024.7,959.8 L1036.7,922" stroke="#0d0d0d" stroke-width="1.4" fill="none" stroke-dasharray="4,2" />
<path d="M952.4,971.7 V988 H976.8 V971.7" stroke="#0d0d0d" stroke-width="1.3" fill="none" stroke-dasharray="4,2" />
<path d="M901.8,1043 V991.1 H1047.6" stroke="#0d0d0d" stroke-width="1.7" fill="none" stroke-dasharray="4,2" />
<path d="M868.7,962.5 H875.2 V1004.9 H868.7" stroke="#0d0d0d" stroke-width="1.3" fill="none" stroke-dasharray="4,2" />
<line x1="828" y1="1004.3" x2="867.6" y2="1004.3" stroke="#383838" stroke-width="1.25"/>
<path d="M908.1,1041.8 V1015.5 H996.6 V1041.8" stroke="#0d0d0d" stroke-width="1.5" fill="none" stroke-dasharray="4,2" />
<path d="M897.4,1043 H1048" stroke="#0d0d0d" stroke-width="1.6" fill="none" stroke-dasharray="4,2" />
<rect x="897.4" y="1050.6" width="150.6" height="7.8" fill="#111"/>
<line x1="910" y1="1054.5" x2="1032" y2="1054.5" stroke="#fff" stroke-width="2.6" stroke-dasharray="2.4,2.4"/>
<path d="M917,1061.5 H1048" stroke="#0d0d0d" stroke-width="2.0" fill="none" stroke-dasharray="4,2" />
<path d="M1018,1064 H1049 V1068.5 H1018 Z" stroke="#0d0d0d" stroke-width="1.1" fill="none" stroke-dasharray="4,2" />
<path d="M1040.2,929.5 Q1040.2,925.4 1044,925.4 Q1047.6,925.4 1047.6,929.5 V950.3 Q1047.6,954.3 1044,954.3 Q1040.2,954.3 1040.2,950.3 Z" stroke="#0d0d0d" stroke-width="1.3" fill="none" stroke-dasharray="4,2" />
<circle cx="1044.7" cy="930.5" r="1.5" fill="#111"/><circle cx="1044.7" cy="949.6" r="1.5" fill="#111"/>
<path d="M1026.7,956.8 H1048 V964.2 H1026.7 Z" stroke="#0d0d0d" stroke-width="1.3" fill="none" stroke-dasharray="4,2" />
<line x1="1048.1" y1="922" x2="1048.1" y2="955" stroke="#383838" stroke-width="1.1"/>
<path d="M1048.1,955 V1171" stroke="#0d0d0d" stroke-width="1.4" fill="none" stroke-dasharray="4,2" />
<path d="M1053.5,922 V1171" stroke="#0d0d0d" stroke-width="1.0" fill="none" stroke-dasharray="2,2" />
<path d="M901.3,1171 V1082 H1047.8 V1171" stroke="#0d0d0d" stroke-width="1.7" fill="none" stroke-dasharray="4,2" />
<path d="M907.5,1082 V1146" stroke="#0d0d0d" stroke-width="1.5" fill="none" stroke-dasharray="4,2" />
<path d="M1042,1082 V1146" stroke="#0d0d0d" stroke-width="1.3" fill="none" stroke-dasharray="4,2" />
<path d="M897.4,1146 H1048" stroke="#0d0d0d" stroke-width="1.6" fill="none" stroke-dasharray="4,2" />
<rect x="897.4" y="1152.8" width="150.6" height="8.4" fill="#111"/>
<line x1="910" y1="1157" x2="1032" y2="1157" stroke="#fff" stroke-width="2.6" stroke-dasharray="2.4,2.4"/>
<path d="M897.4,1165 H1048" stroke="#0d0d0d" stroke-width="1.5" fill="none" stroke-dasharray="4,2" />
<path d="M887.6,1171 V1122 H893 V1171" stroke="#0d0d0d" stroke-width="1.3" fill="none" stroke-dasharray="4,2" />
<circle cx="1054.5" cy="990" r="2.7" fill="none" stroke="#222" stroke-width="1.2"/>
<circle cx="1054.5" cy="996" r="2.7" fill="none" stroke="#222" stroke-width="1.2"/>
<circle cx="1054.5" cy="1002" r="2.7" fill="none" stroke="#222" stroke-width="1.2"/>
<circle cx="1054.5" cy="1008" r="2.7" fill="none" stroke="#222" stroke-width="1.2"/>
<circle cx="1054.5" cy="1014" r="2.7" fill="none" stroke="#222" stroke-width="1.2"/>
<circle cx="1054.5" cy="1020" r="2.7" fill="none" stroke="#222" stroke-width="1.2"/>
<circle cx="1054.5" cy="1026" r="2.7" fill="none" stroke="#222" stroke-width="1.2"/>
<circle cx="1054.5" cy="1032" r="2.7" fill="none" stroke="#222" stroke-width="1.2"/>
<circle cx="1054.5" cy="1090" r="2.7" fill="none" stroke="#222" stroke-width="1.2"/>
<circle cx="1054.5" cy="1096" r="2.7" fill="none" stroke="#222" stroke-width="1.2"/>
<circle cx="1054.5" cy="1102" r="2.7" fill="none" stroke="#222" stroke-width="1.2"/>
<circle cx="1054.5" cy="1108" r="2.7" fill="none" stroke="#222" stroke-width="1.2"/>
<circle cx="1054.5" cy="1114" r="2.7" fill="none" stroke="#222" stroke-width="1.2"/>
<circle cx="1054.5" cy="1120" r="2.7" fill="none" stroke="#222" stroke-width="1.2"/>
<circle cx="1054.5" cy="1126" r="2.7" fill="none" stroke="#222" stroke-width="1.2"/>
<circle cx="1063" cy="1014.3" r="3.3" fill="#fff" stroke="#111" stroke-width="2.0"/>
<circle cx="1063" cy="1113.7" r="3.3" fill="#fff" stroke="#111" stroke-width="2.0"/>
<line x1="832.5" y1="1004.3" x2="832.5" y2="1270.6" stroke="#383838" stroke-width="1.25"/>
<polygon points="832.5,1004.3 830.9,1014.3 834.1,1014.3" fill="#0d0d0d"/>
<polygon points="832.5,1270.6 830.9,1260.6 834.1,1260.6" fill="#0d0d0d"/>
<text x="829.7679999999999" y="1136.4" font-size="13.8" font-style="italic" text-anchor="middle" fill="#111" stroke="#111" stroke-width="0.35" transform="rotate(-90 829.7679999999999 1136.4)" textLength="23.4" lengthAdjust="spacingAndGlyphs" >638</text>
<line x1="830" y1="1270.6" x2="1101.5" y2="1270.6" stroke="#383838" stroke-width="1.2"/>
<line x1="1100.1" y1="914.7" x2="1100.1" y2="1270.6" stroke="#383838" stroke-width="1.25"/>
<polygon points="1100.1,914.7 1098.5,924.7 1101.6999999999998,924.7" fill="#0d0d0d"/>
<polygon points="1100.1,1270.6 1098.5,1260.6 1101.6999999999998,1260.6" fill="#0d0d0d"/>
<text x="1096.768" y="1092.3" font-size="13.8" font-style="italic" text-anchor="middle" fill="#111" stroke="#111" stroke-width="0.35" transform="rotate(-90 1096.768 1092.3)" textLength="23.4" lengthAdjust="spacingAndGlyphs" >850</text>
<line x1="837.2" y1="1198.2" x2="903.2" y2="1198.2" stroke="#383838" stroke-width="1.25"/>
<polygon points="867.6,1198.2 857.6,1196.6000000000001 857.6,1199.8" fill="#0d0d0d"/>
<polygon points="887.6,1198.2 897.6,1196.6000000000001 897.6,1199.8" fill="#0d0d0d"/>
<line x1="887.6" y1="1171.5" x2="887.6" y2="1202" stroke="#383838" stroke-width="1.25"/>
<text x="841.3" y="1195" font-size="13.8" font-style="italic" text-anchor="start" fill="#111" stroke="#111" stroke-width="0.35" textLength="16.5" lengthAdjust="spacingAndGlyphs" >46</text>
<line x1="867.6" y1="1229.3" x2="901.3" y2="1229.3" stroke="#383838" stroke-width="1.25"/>
<polygon points="867.6,1229.3 877.6,1227.7 877.6,1230.8999999999999" fill="#0d0d0d"/>
<polygon points="901.3,1229.3 891.3,1227.7 891.3,1230.8999999999999" fill="#0d0d0d"/>
<line x1="901.3" y1="1171.5" x2="901.3" y2="1232" stroke="#383838" stroke-width="1.25"/>
<text x="877.9" y="1226.6" font-size="13.8" font-style="italic" text-anchor="start" fill="#111" stroke="#111" stroke-width="0.35" textLength="15.7" lengthAdjust="spacingAndGlyphs" >80</text>
</svg>
</body></html>
